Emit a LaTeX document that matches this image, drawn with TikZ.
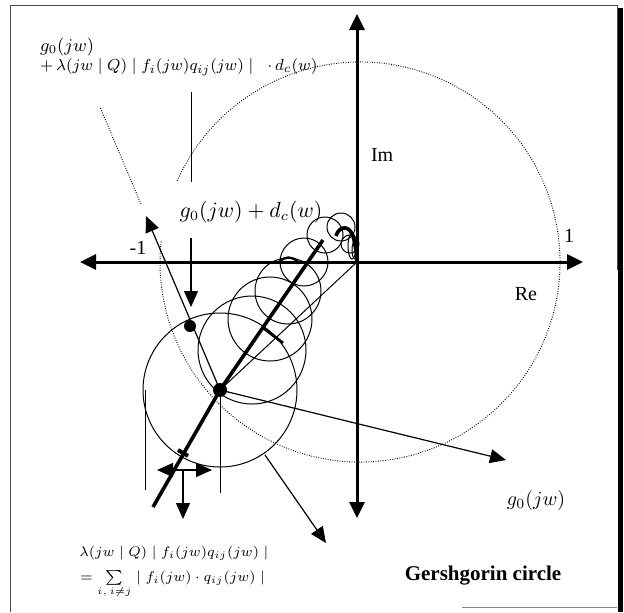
\documentclass[tikz,border=0pt]{standalone}
\usepackage{fontspec}
\setmainfont{Liberation Serif}
\usepackage{amsmath}
\usetikzlibrary{arrows.meta}

\tikzset{
  eje/.style={line width=1.5pt, {Triangle[length=8pt,width=7.5pt]}-{Triangle[length=8pt,width=7.5pt]}},
  flecha/.style={line width=0.6pt, -{Triangle[length=8pt,width=7pt]}},
  fino/.style={line width=0.5pt},
  lugar/.style={line width=1.8pt},
  punteado/.style={line width=0.5pt, dash pattern=on 0.4pt off 0.8pt},
}

\begin{document}
\begin{tikzpicture}[x=0.5pt,y=-0.5pt]
        \useasboundingbox (0,0) rectangle (624,612);
        % Marco
        \draw[line width=0.5pt, black!70] (10,612) -- (10,5) -- (617,5) -- (617,270);
        \draw[line width=0.5pt, black!50] (462,607) -- (617,607);
        \fill (618,8) rectangle (623,612);

        % Puntos principales
        \coordinate (O) at (357,262);
        \coordinate (P) at (220,390);
        \coordinate (Q) at (190,326);

        % Ejes
        \coordinate (ReIzq) at (80,262);
        \coordinate (ReDer) at (583,262);
        \coordinate (ImArr) at (357,14);
        \coordinate (ImAba) at (357,518);
        \draw[eje] (ReIzq) -- (ReDer);
        \draw[eje] (ImAba) -- (ImArr);
        \node[anchor=west] (im) at (364,155) {Im};
        \node (re) at (526,294) {Re};
        \node (uno) at (569,236) {1};
        \node (menosuno) at (138,248) {-1};

        % Circulo unidad (punteado)
        \draw[punteado] (360,262) ++(204:200) arc[start angle=204, end angle=546, radius=200];

        % Circulos de Gershgorin
        \foreach \cx/\cy/\r in {220/390/77, 252/350/54, 270/319/42, 288/291/33,
                                304/262/24, 325/235/18, 341/227/14, 350/244/9} {
            \draw[fino] (\cx,\cy) circle[radius=\r];
        }
        \draw[fino] (352,246) ellipse[x radius=4, y radius=13];
        \draw[fino] (355,250) ellipse[x radius=3, y radius=9];

        % Lugar de g0 + dc
        \coordinate (L1) at (153,507);
        \coordinate (L2) at (323,240);
        \draw[lugar] (L1) -- (P) -- (L2);
        \draw[lugar] (336,236) .. controls (339,225) and (351,224) .. (354,240)
                     .. controls (356,250) and (357,256) .. (O);
        \draw[line width=1.4pt] (262,327) -- (283,343);
        \draw[line width=2pt] (178,450) -- (188,456);
        \draw[line width=1.2pt] (279,262) .. controls (285,256) and (292,256) .. (298,262);

        % Rectas desde P
        \draw[fino] (P) -- (O);
        \coordinate (tipA) at (146,216);
        \coordinate (finA) at (100,107);
        \draw[flecha] (P) -- (tipA);
        \draw[punteado] (141,204) -- (finA);
        \coordinate (tipG) at (506,460);
        \draw[flecha] (P) -- (tipG);
        \node (g0) at (536,500) {$g_0(jw)$};

        % Puntos
        \fill (P) circle[radius=7];
        \fill (Q) circle[radius=6];

        % Etiqueta g0 + dc
        \node[font=\fontsize{10.5}{12}\selectfont] (tg) at (251,212) {$g_0(jw)+d_c(w)$};
        \draw[flecha] (191,238) -- (191,307);
        \draw[fino] (191,92) -- (191,182);

        % Texto superior
        \node[anchor=west, font=\fontsize{9}{11}\selectfont] (tsup1) at (33,47) {$g_0(jw)$};
        \node[anchor=west, font=\fontsize{8.2}{11}\selectfont] (tsup2) at (33,67) {$+\,\lambda(jw\mid Q)\mid f_i(jw)q_{ij}(jw)\mid\;\;\cdot\, d_c(w)$};

        % Radio del circulo
        \draw[fino] (145,390) -- (145,490);
        \draw[fino] (P) -- (220,493);
        \draw[line width=0.6pt, {Triangle[length=8pt,width=7pt]}-{Triangle[length=8pt,width=7pt]}] (157,470) -- (212,470);
        \draw[flecha] (183,470) -- (183,519);
        \node[anchor=west, inner sep=1pt, font=\fontsize{7.4}{10}\selectfont] (tinf1) at (77,553) {$\lambda(jw\mid Q)\mid f_i(jw)q_{ij}(jw)\mid$};
        \node[anchor=north west, inner sep=0pt, font=\fontsize{7.4}{10}\selectfont] (tinf2) at (80,570) {$=\sum\limits_{i,\,i\neq j}\mid f_i(jw)\cdot q_{ij}(jw)\mid$};

        % Circulo de Gershgorin
        \coordinate (gerA) at (265,455);
        \coordinate (gerB) at (326,543);
        \draw[flecha] (gerA) -- (gerB);
        \node[font=\fontsize{10.5}{12}\selectfont\bfseries] (ger) at (483,576) {Gershgorin circle};
\end{tikzpicture}
\end{document}
